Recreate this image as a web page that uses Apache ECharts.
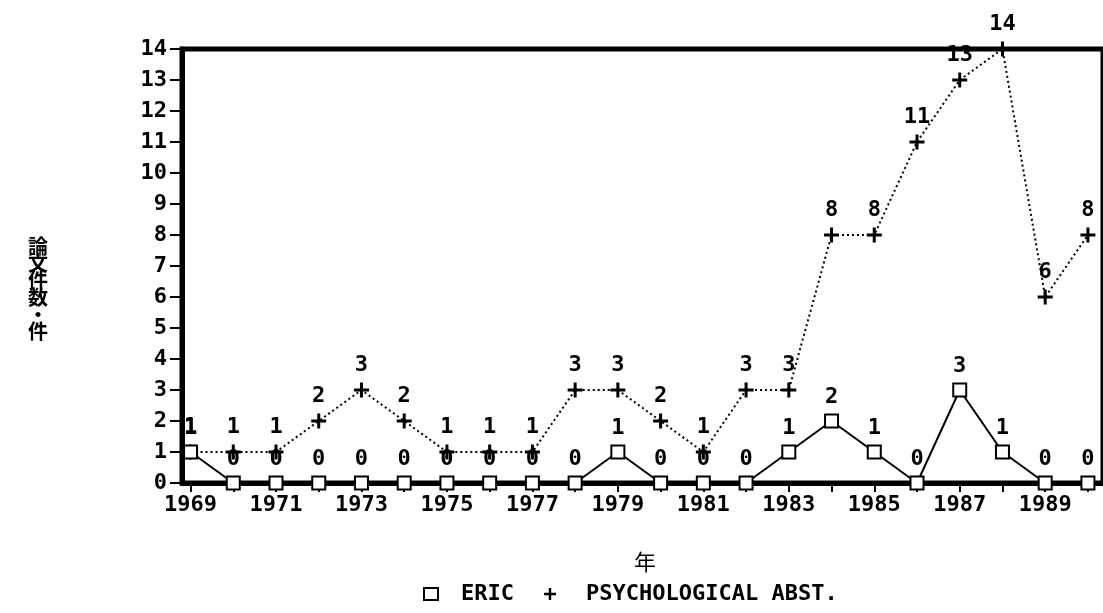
<!DOCTYPE html>
<html>
<head>
<meta charset="utf-8">
<script src="https://cdn.jsdelivr.net/npm/echarts@6/dist/echarts.min.js"></script>
<style>
html,body{margin:0;padding:0;background:#fff;}
#c{width:1103px;height:613px;}
</style>
</head>
<body>
<div id="c"></div>
<script>
const years = [1969,1970,1971,1972,1973,1974,1975,1976,1977,1978,1979,1980,1981,1982,1983,1984,1985,1986,1987,1988,1989,1990];
const ericValues = [1,0,0,0,0,0,0,0,0,0,1,0,0,0,1,2,1,0,3,1,0,0];
const psychValues = [1,1,1,2,3,2,1,1,1,3,3,2,1,3,3,8,8,11,13,14,6,8];
const yearLabels = [1969,1971,1973,1975,1977,1979,1981,1983,1985,1987,1989];
const seriesNames = ['ERIC','PSYCHOLOGICAL ABST.'];
const yTitle = '論文件数・件';
const xTitle = '年';

const mono = '"DejaVu Sans Mono", "Liberation Mono", monospace';
const cjk = '"Noto Sans CJK JP", "Noto Sans CJK SC", sans-serif';
const plus = 'path://M4,0H6V4H10V6H6V10H4V6H0V4H4Z';
const FS = 22;

const chart = echarts.init(document.getElementById('c'), null, {renderer:'canvas'});
chart.setOption({
  animation:false,
  backgroundColor:'#fff',
  grid:{left:182, top:49, width:930, height:434, show:true, borderColor:'#000', borderWidth:5, backgroundColor:'transparent'},
  xAxis:{
    type:'value', min:1968.8, max:1968.8+930/43.15,
    axisLine:{show:true, lineStyle:{color:'#000', width:5}},
    axisTick:{show:true, customValues:years, length:9, lineStyle:{color:'#000', width:2}},
    axisLabel:{customValues:yearLabels, color:'#000', fontFamily:mono, fontWeight:'bold', fontSize:FS, margin:11, formatter:v=>String(v)},
    splitLine:{show:false}
  },
  yAxis:{
    type:'value', min:0, max:14, interval:1,
    axisLine:{show:true, lineStyle:{color:'#000', width:5}},
    axisTick:{show:true, length:12, lineStyle:{color:'#000', width:2}},
    axisLabel:{color:'#000', fontFamily:mono, fontWeight:'bold', fontSize:FS, margin:15},
    splitLine:{show:false}
  },
  legend:{
    top:578, left:418, itemGap:30, itemWidth:14, itemHeight:12,
    textStyle:{color:'#000', fontFamily:mono, fontWeight:'bold', fontSize:22},
    data:[
      {name:seriesNames[0], icon:'rect', itemStyle:{color:'#fff', borderColor:'#000', borderWidth:2}, textStyle:{padding:[0,0,0,18]}},
      {name:seriesNames[1], icon:plus, itemStyle:{color:'#000'}, textStyle:{padding:[0,0,0,24]}}
    ]
  },
  graphic:[
    {type:'text', left:28, top:236,
     style:{text:yTitle.split('').join('\n'), fill:'#000', font:'bold 20px '+cjk, lineHeight:17}},
    {type:'text', left:634, top:551,
     style:{text:xTitle, fill:'#000', font:'22px '+cjk}}
  ],
  series:[
    {
      name:seriesNames[1], type:'line', z:2,
      data:years.map((y,i)=>[y,psychValues[i]]),
      symbol:plus, symbolSize:15,
      itemStyle:{color:'#000'},
      lineStyle:{color:'#000', width:2, type:[2,3]},
      label:{show:true, position:'top', distance:6, color:'#000', fontFamily:mono, fontWeight:'bold', fontSize:FS, formatter:p=>String(p.value[1])}
    },
    {
      name:seriesNames[0], type:'line', z:3,
      data:years.map((y,i)=>[y,ericValues[i]]),
      symbol:'rect', symbolSize:13,
      itemStyle:{color:'#fff', borderColor:'#000', borderWidth:2},
      lineStyle:{color:'#000', width:2},
      label:{show:true, position:'top', distance:5, color:'#000', fontFamily:mono, fontWeight:'bold', fontSize:FS, formatter:p=>String(p.value[1])}
    }
  ]
});
</script>
</body>
</html>
